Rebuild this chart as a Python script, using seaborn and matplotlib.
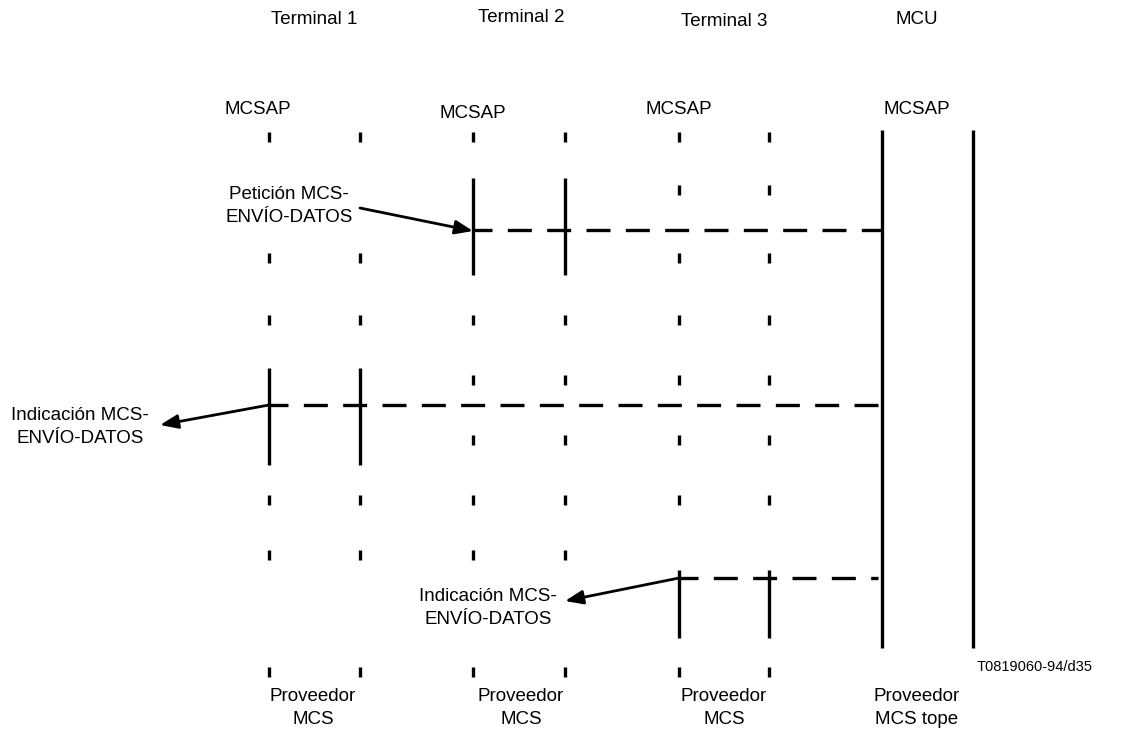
import matplotlib
matplotlib.use("Agg")
import matplotlib.pyplot as plt
import seaborn as sns
import pandas as pd

# ---------------- data ----------------
entity_names = ["Terminal 1", "Terminal 2", "Terminal 3", "MCU"]
entity_title_x = [314, 521, 724, 917]
entity_title_y = [20, 17, 22, 20]
sap_label = "MCSAP"
sap_x = [258, 473, 679, 917]
sap_y = [110, 113, 110, 110]
provider_labels = ["Proveedor\nMCS", "Proveedor\nMCS", "Proveedor\nMCS", "Proveedor\nMCS tope"]
provider_x = [313, 521, 724, 917]

# column positions (left / right line of each entity)
col_left = [269, 473, 679, 882]
col_right = [360, 565, 769, 973]

# short tick rows for each terminal (y centres)
t1_ticks = [137, 258, 320, 500, 555, 672]
t2_ticks = [137, 320, 380, 440, 500, 555, 672]
t3_ticks = [137, 190, 258, 320, 380, 440, 500, 672]

# active (solid) spans: entity index, y start, y end
active_entity = [1, 0, 2, 3]
active_y0 = [178, 368, 570, 130]
active_y1 = [275, 465, 638, 648]

# primitive messages (dashed lines)
msg_y = [230, 405, 578]
msg_x0 = [473, 269, 679]
msg_x1 = [882, 882, 878]

# primitive labels and arrows
prim_text = ["Petición MCS-\nENVÍO-DATOS", "Indicación MCS-\nENVÍO-DATOS", "Indicación MCS-\nENVÍO-DATOS"]
prim_text_x = [289, 80, 488]
prim_text_y = [206, 427, 608]
arrow_from_x = [360, 269, 679]
arrow_from_y = [208, 405, 578]
arrow_to_x = [473, 160, 565]
arrow_to_y = [231, 425, 601]

ref_code = "T0819060-94/d35"

# ---------------- drawing ----------------
sns.set_theme(style="white")
plt.rcParams["font.family"] = ["Liberation Sans", "DejaVu Sans"]
plt.rcParams["text.color"] = "black"

fig = plt.figure(figsize=(11.23, 7.40), dpi=100)
ax = fig.add_axes([0, 0, 1, 1])

lw_solid = 2.4
tick_half = 5
fs = 13.5
ls = 1.45

tick_sets = [t1_ticks, t2_ticks, t3_ticks]
for i, ys in enumerate(tick_sets):
    for x in (col_left[i], col_right[i]):
        ax.vlines([x] * len(ys), [y - tick_half for y in ys], [y + tick_half for y in ys],
                  color="black", lw=lw_solid)

for e, y0, y1 in zip(active_entity, active_y0, active_y1):
    ax.vlines([col_left[e], col_right[e]], y0, y1, color="black", lw=lw_solid)

msg_df = pd.DataFrame({
    "x": [v for a, b in zip(msg_x0, msg_x1) for v in (a, b)],
    "y": [v for y in msg_y for v in (y, y)],
    "msg": [i for i in range(len(msg_y)) for _ in range(2)],
})
for i, g in msg_df.groupby("msg"):
    sns.lineplot(data=g, x="x", y="y", ax=ax, color="black", lw=lw_solid,
                 linestyle=(1.5, (7.2, 4.6)), estimator=None, sort=False)
ax.set_xlim(0, 1123)
ax.set_ylim(740, 0)
ax.axis("off")

for t, tx, ty, fx, fy, ex, ey in zip(prim_text, prim_text_x, prim_text_y,
                                     arrow_from_x, arrow_from_y, arrow_to_x, arrow_to_y):
    ax.text(tx, ty, t, ha="center", va="center", fontsize=fs, linespacing=ls)
    ax.annotate("", xy=(ex, ey), xytext=(fx, fy),
                arrowprops=dict(arrowstyle="-|>,head_length=0.9,head_width=0.35",
                                color="black", lw=2.0, shrinkA=0, shrinkB=0))

for name, x, y in zip(entity_names, entity_title_x, entity_title_y):
    ax.text(x, y, name, ha="center", va="center", fontsize=fs)
for x, y in zip(sap_x, sap_y):
    ax.text(x, y, sap_label, ha="center", va="center", fontsize=fs)
for lab, x in zip(provider_labels, provider_x):
    ax.text(x, 708, lab, ha="center", va="center", fontsize=fs, linespacing=ls)

ax.text(1035, 667, ref_code, ha="center", va="center", fontsize=10.5)

fig.savefig("out.png", dpi=100)
